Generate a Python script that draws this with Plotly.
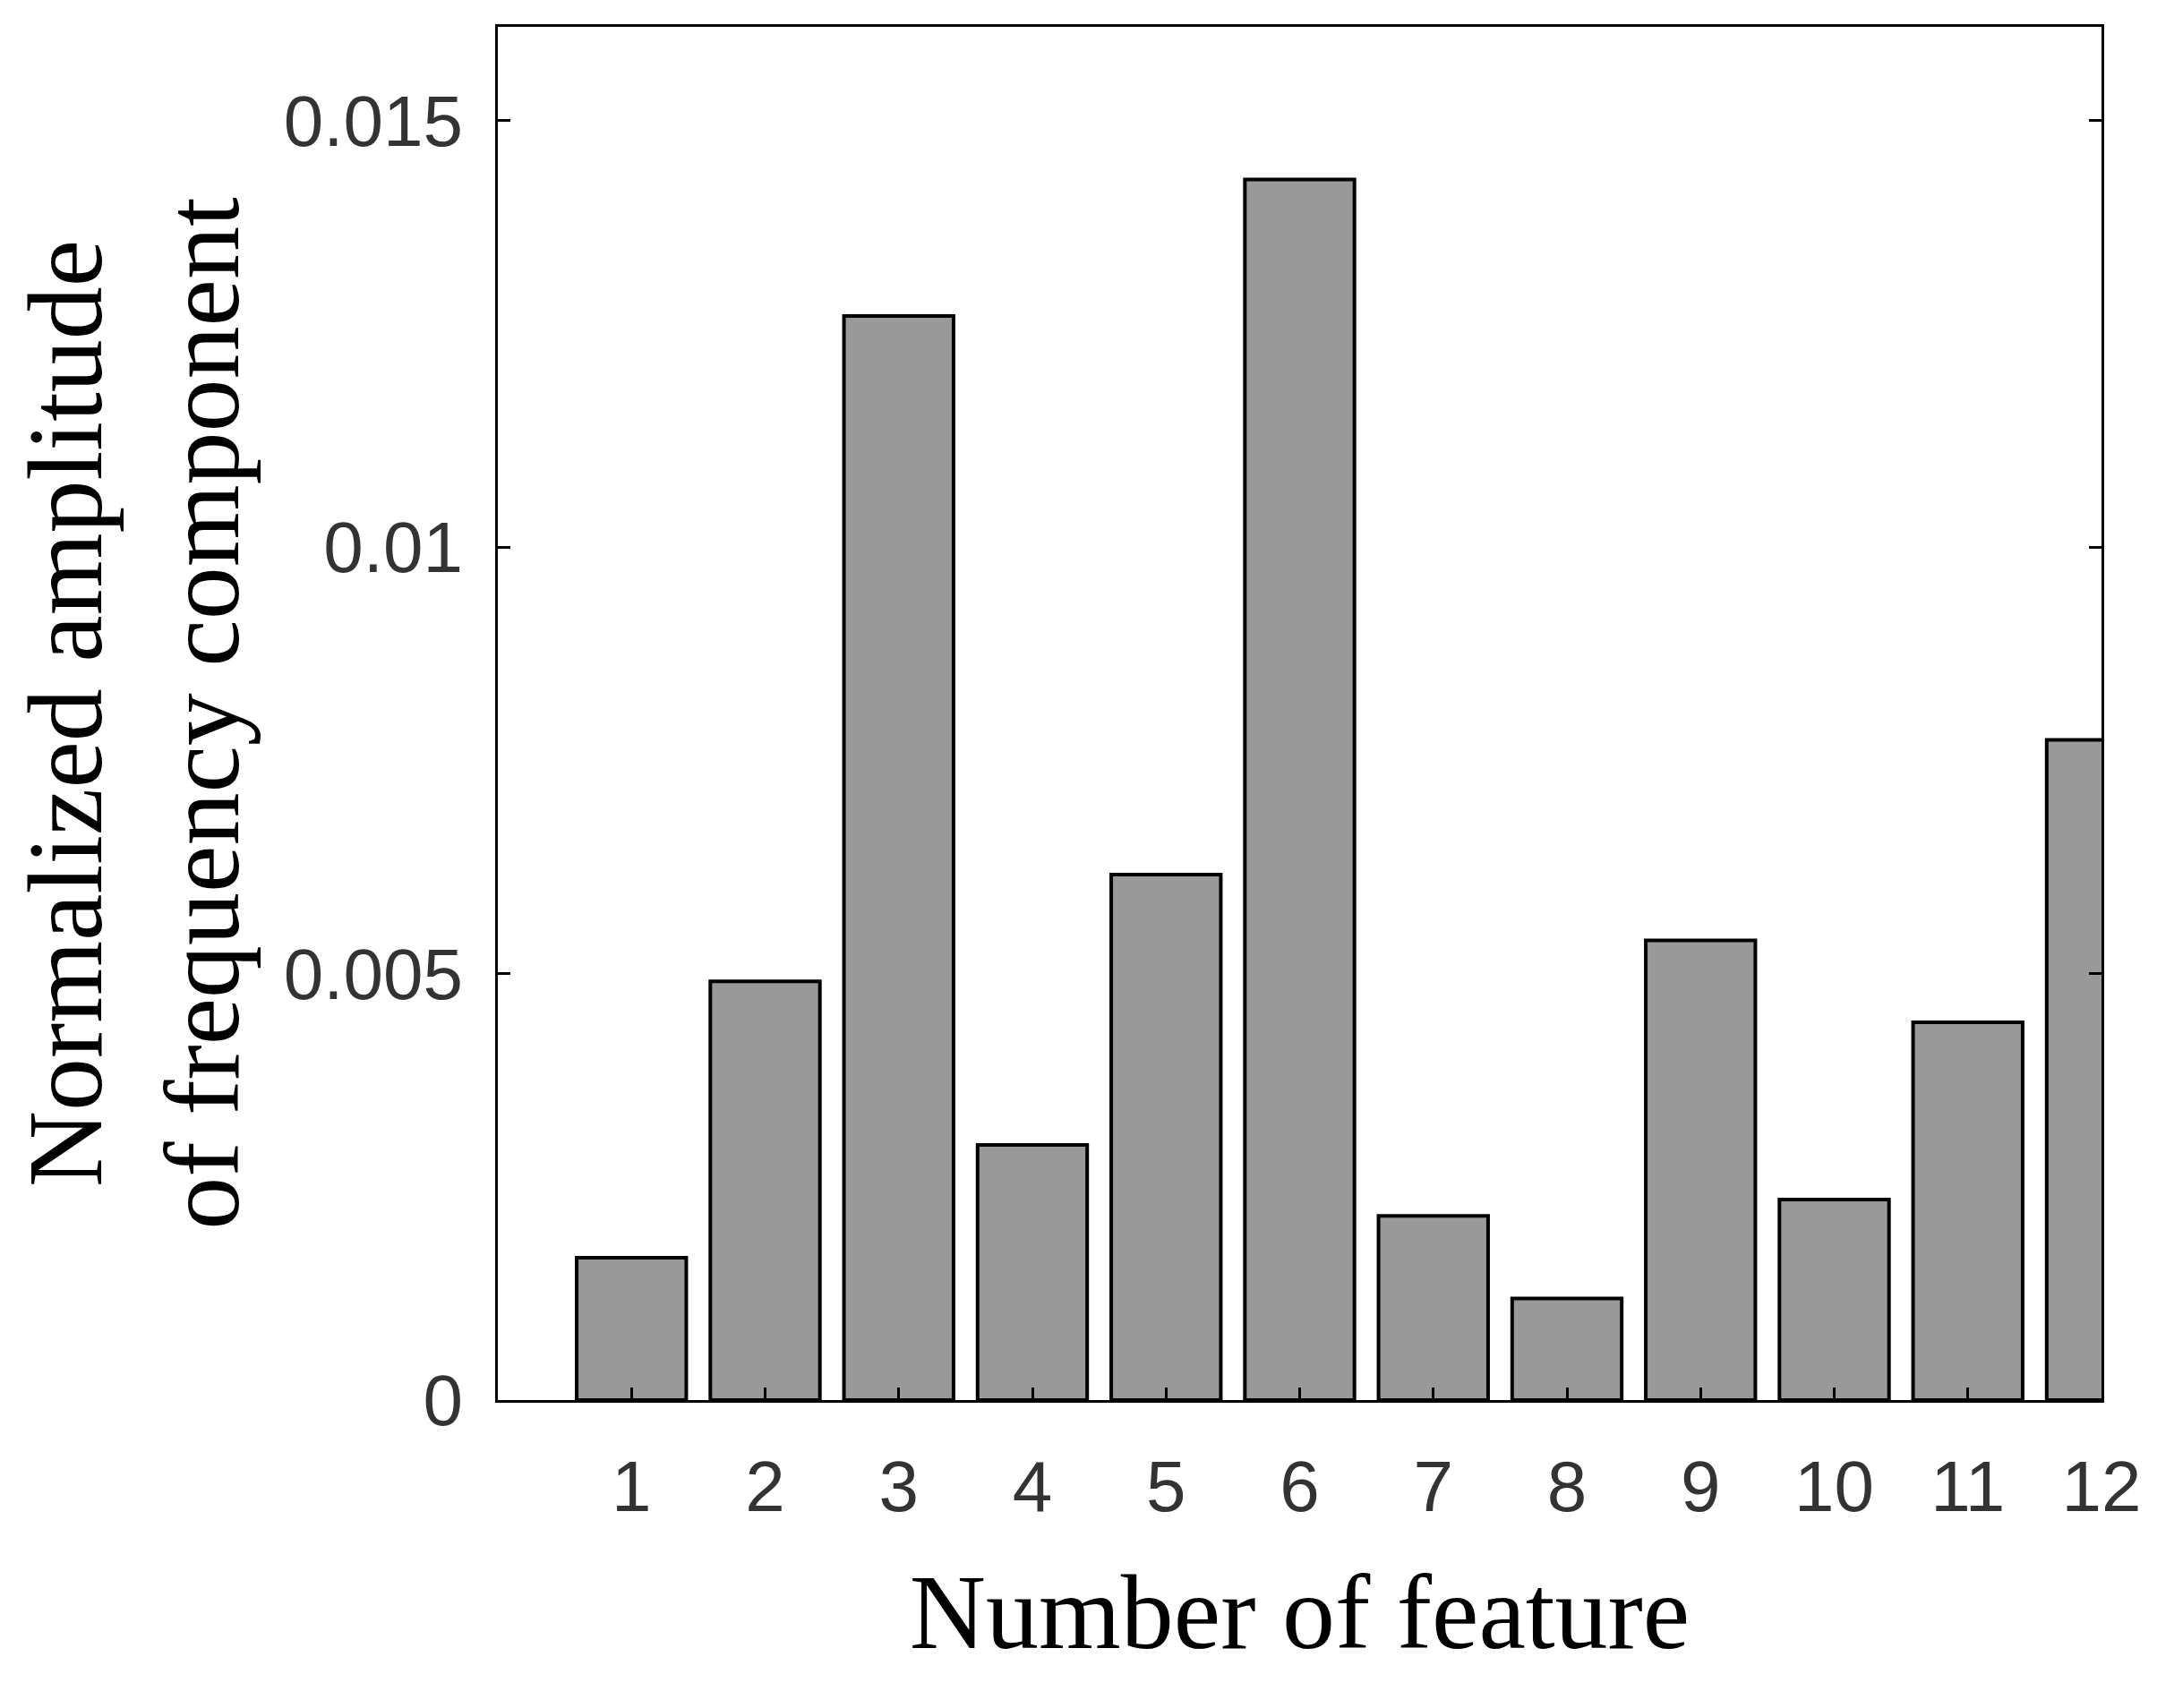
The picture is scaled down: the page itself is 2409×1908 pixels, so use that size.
import plotly.graph_objects as go

features = [1, 2, 3, 4, 5, 6, 7, 8, 9, 10, 11, 12]
amplitudes = [0.00167, 0.00491, 0.01271, 0.00299, 0.00616, 0.01431,
              0.00216, 0.00119, 0.00539, 0.00235, 0.00443, 0.00774]
y_ticks = [0, 0.005, 0.01, 0.015]
y_tick_labels = ["0", "0.005", "0.01", "0.015"]

fig = go.Figure(go.Bar(
    x=features, y=amplitudes, width=0.82,
    marker=dict(color="#999999", line=dict(color="black", width=4)),
    cliponaxis=True,
))
fig.update_layout(
    width=2409, height=1908, plot_bgcolor="white", paper_bgcolor="white",
    margin=dict(l=548, r=70, t=22, b=352), showlegend=False,
    xaxis=dict(range=[0, 12], tickvals=features, showline=True, linecolor="black",
               linewidth=3, mirror=True, ticks="inside", ticklen=14, tickwidth=3,
               tickcolor="black", showgrid=False, zeroline=False, ticklabelstandoff=25,
               tickfont=dict(family="Liberation Sans Narrow, Liberation Sans", size=80, color="#333333"),
               title=dict(text="Number of feature", standoff=55,
                          font=dict(family="Liberation Serif", size=118, color="black"))),
    yaxis=dict(range=[0, 0.0161], tickvals=y_ticks, ticktext=y_tick_labels,
               showline=True, linecolor="black", linewidth=3, mirror="ticks",
               ticks="inside", ticklen=14, tickwidth=3, tickcolor="black",
               showgrid=False, zeroline=False, ticklabelstandoff=20,
               tickfont=dict(family="Liberation Sans Narrow, Liberation Sans", size=80, color="#333333"),
               title=dict(text="Normalized amplitude<br>of frequency component", standoff=55,
                          font=dict(family="Liberation Serif", size=118, color="black"))),
)
fig.write_html("out.html")
